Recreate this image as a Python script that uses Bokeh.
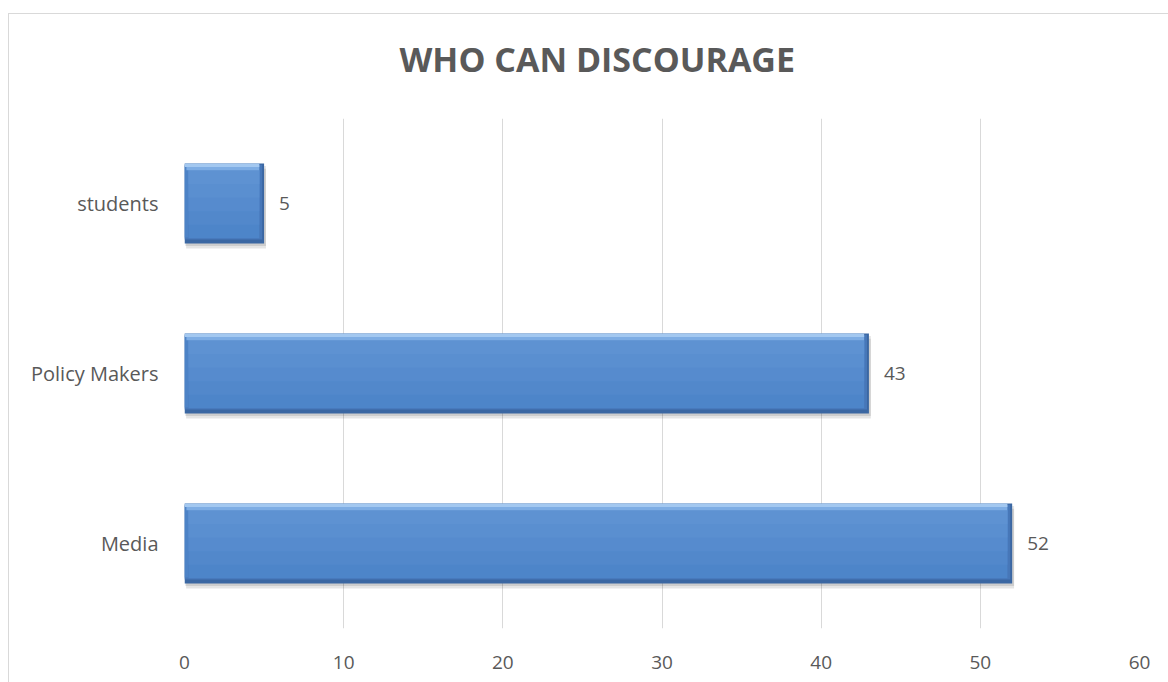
from bokeh.plotting import figure
from bokeh.models import ColumnDataSource, Range1d, FactorRange, FixedTicker, Title
from bokeh.transform import dodge
from bokeh.embed import file_html
from bokeh.resources import INLINE

# Survey answers: who can discourage
categories = ["Media", "Policy Makers", "students"]
counts = [52, 43, 5]
x_ticks = [0, 10, 20, 30, 40, 50, 60]
chart_title = "WHO CAN DISCOURAGE"

FONT = "Open Sans"
GREY = "#595959"
BAR_H = 0.47

src = ColumnDataSource(dict(
    cat=categories,
    val=counts,
    mid_right=[v - 0.12 for v in counts],
    inner_right=[v - 0.3 for v in counts],
    shadow_right=[v + 0.12 for v in counts],
    label=[str(v) for v in counts],
))

p = figure(
    width=1159, height=668,
    frame_width=955, frame_height=510,
    min_border_left=175, min_border_right=29,
    min_border_top=104, min_border_bottom=54,
    x_range=Range1d(0, 60),
    y_range=FactorRange(factors=categories),
    output_backend="svg", toolbar_location=None,
)
# chart-area border on the outer edge
p.margin = (13, 0, 0, 8)
p.styles = {"border-left": "1px solid #d9d9d9", "border-top": "1px solid #d9d9d9"}

p.outline_line_color = None
p.background_fill_color = "white"
p.border_fill_color = "white"

# gap between the title and the plot frame
p.add_layout(Title(text=" ", standoff=32, text_font_size="1px",
                   text_color="white"), "above")
# title centred on the whole chart area rather than the plot frame
p.add_layout(Title(text=chart_title, align="left", offset=215, standoff=0,
                   vertical_align="top",
                   text_font=FONT, text_font_size="34px", text_font_style="bold",
                   text_color=GREY), "above")

p.xgrid.grid_line_color = "#d9d9d9"
p.xgrid.grid_line_width = 1
p.ygrid.grid_line_color = None

p.xaxis.ticker = FixedTicker(ticks=x_ticks)
p.xaxis.axis_line_color = None
p.xaxis.major_tick_line_color = None
p.xaxis.minor_tick_line_color = None
p.xaxis.major_label_text_font = FONT
p.xaxis.major_label_text_font_size = "19px"
p.xaxis.major_label_text_color = GREY
p.xaxis.major_label_standoff = 21

p.yaxis.axis_line_color = None
p.yaxis.major_tick_line_color = None
p.yaxis.minor_tick_line_color = None
p.yaxis.major_label_text_font = FONT
p.yaxis.major_label_text_font_size = "20px"
p.yaxis.major_label_text_color = GREY
p.yaxis.major_label_standoff = 20


def layer(offset, height, left, right, color, alpha=1.0):
    p.hbar(y=dodge("cat", offset, range=p.y_range), left=left, right=right,
           height=height, source=src, fill_color=color, fill_alpha=alpha,
           line_color=None)


# soft drop shadow
layer(-0.03, BAR_H, 0.1, "shadow_right", "black", 0.10)
layer(-0.015, BAR_H, 0.05, "shadow_right", "black", 0.10)
# dark bevel base (right and bottom edges)
layer(0, BAR_H, 0, "val", "#3b67a2")
# softer inner part of the right bevel
layer(0.008, BAR_H - 0.03, 0, "mid_right", "#4777b8")
# left bevel
layer(0.01, BAR_H - 0.05, 0, 0.25, "#4d83c6")
# face, shaded top to bottom; each lighter band overlaps the one below it
face_top = BAR_H / 2 - 0.04
face_bottom = -BAR_H / 2 + 0.03
face_colors = ["#4d85c9", "#5288cb", "#568bce", "#5a8fd0", "#5e92d2"]
for i, c in enumerate(face_colors):
    top = face_top
    bottom = face_bottom + (face_top - face_bottom) * i / len(face_colors)
    layer((top + bottom) / 2, top - bottom, 0.25, "inner_right", c)
# light top bevel
layer(BAR_H / 2 - 0.025, 0.03, 0.12, "inner_right", "#7eade4")
layer(BAR_H / 2 - 0.01, 0.02, 0, "inner_right", "#a3c8f0")

# value labels
p.text(x="val", y="cat", text="label", source=src, x_offset=15,
       text_align="left", text_baseline="middle", text_font_size="19px",
       text_color=GREY, text_font={"value": FONT})

open("out.html", "w").write(file_html(p, INLINE))
